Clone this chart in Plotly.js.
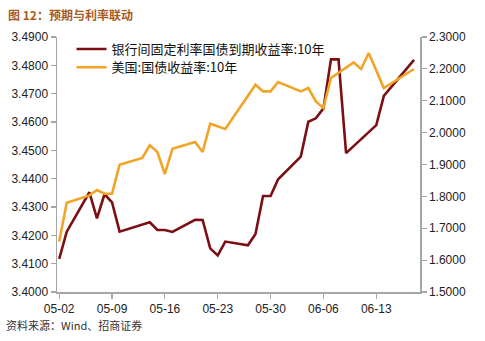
<!DOCTYPE html>
<html>
<head>
<meta charset="utf-8">
<script src="https://cdn.plot.ly/plotly-3.0.1.min.js"></script>
<style>
  html, body { margin: 0; padding: 0; background: #ffffff; }
  #chart { width: 485px; height: 341px; }
</style>
</head>
<body>
<div id="chart"></div>
<script>
// China interbank fixed-rate treasury 10Y yield (left axis)
const cnDates = ['2013-05-02','2013-05-03','2013-05-06','2013-05-07','2013-05-08','2013-05-09','2013-05-10',
  '2013-05-14','2013-05-15','2013-05-16','2013-05-17','2013-05-20','2013-05-21','2013-05-22','2013-05-23',
  '2013-05-24','2013-05-27','2013-05-28','2013-05-29','2013-05-30','2013-05-31','2013-06-01','2013-06-03',
  '2013-06-04','2013-06-05','2013-06-06','2013-06-07','2013-06-08','2013-06-09','2013-06-13','2013-06-14',
  '2013-06-18'];
const cnYield = [3.4117,3.4213,3.4352,3.4260,3.4345,3.4316,3.4213,
  3.4246,3.4219,3.4219,3.4212,3.4255,3.4254,3.4154,3.4129,
  3.4178,3.4165,3.4205,3.4339,3.4339,3.4398,3.4425,3.4478,
  3.4601,3.4613,3.4648,3.4821,3.4821,3.4490,3.4589,3.4692,
  3.4819];

// US treasury 10Y yield (right axis)
const usDates = ['2013-05-02','2013-05-03','2013-05-06','2013-05-07','2013-05-08','2013-05-09','2013-05-10',
  '2013-05-13','2013-05-14','2013-05-15','2013-05-16','2013-05-17','2013-05-20','2013-05-21','2013-05-22',
  '2013-05-23','2013-05-24','2013-05-28','2013-05-29','2013-05-30','2013-05-31','2013-06-03','2013-06-04',
  '2013-06-05','2013-06-06','2013-06-07','2013-06-10','2013-06-11','2013-06-12','2013-06-14','2013-06-18'];
const usYield = [1.6588,1.7802,1.8031,1.8200,1.8084,1.8084,1.8994,
  1.9204,1.9600,1.9392,1.8702,1.9496,1.9706,1.9392,2.0280,
  2.0195,2.0114,2.1504,2.1293,2.1293,2.1588,2.1293,2.1400,
  2.0980,2.0773,2.1714,2.2203,2.1996,2.2498,2.1400,2.1996];

const seriesNames = ['银行间固定利率国债到期收益率:10年', '美国:国债收益率:10年'];
const xTickVals = ['2013-05-02','2013-05-09','2013-05-16','2013-05-23','2013-05-30','2013-06-06','2013-06-13'];
const xTickText = ['05-02','05-09','05-16','05-23','05-30','06-06','06-13'];
const titleText = '图 12：预期与利率联动';
const sourceText = '资料来源：Wind、招商证券';

const tickFont = {family: 'Liberation Sans, Arial, sans-serif', size: 12, color: '#222222'};
const axisGray = '#a6a6a6';
const legendFont = {family: 'Noto Sans CJK SC, sans-serif', size: 13, color: '#111111'};

const traces = [
  {x: cnDates, y: cnYield, name: seriesNames[0], type: 'scatter', mode: 'lines',
   line: {color: '#7b0f14', width: 2.6}, yaxis: 'y', legend: 'legend'},
  {x: usDates, y: usYield, name: seriesNames[1], type: 'scatter', mode: 'lines',
   line: {color: '#f2a427', width: 2.6}, yaxis: 'y2', legend: 'legend2'}
];

const layout = {
  width: 485, height: 341,
  margin: {l: 57, r: 65, t: 37, b: 49},
  paper_bgcolor: '#ffffff', plot_bgcolor: '#ffffff',
  showlegend: true,
  legend: {x: 0.04, y: 0.953, xanchor: 'left', yanchor: 'middle', bgcolor: 'rgba(0,0,0,0)',
    font: legendFont, itemwidth: 30},
  legend2: {x: 0.04, y: 0.881, xanchor: 'left', yanchor: 'middle', bgcolor: 'rgba(0,0,0,0)',
    font: legendFont, itemwidth: 30},
  xaxis: {type: 'date', range: ['2013-05-01 17:00', '2013-06-18 19:00'],
    tickmode: 'array', tickvals: xTickVals, ticktext: xTickText,
    showgrid: false, zeroline: false, showline: true, linecolor: axisGray, linewidth: 1.5,
    ticks: 'outside', ticklen: 5, tickcolor: axisGray, tickwidth: 1.2, tickfont: tickFont},
  yaxis: {range: [3.40, 3.49], dtick: 0.01, tick0: 3.40, tickformat: '.4f',
    showgrid: false, zeroline: false, showline: true, linecolor: axisGray, linewidth: 1.5,
    ticks: 'outside', ticklen: 5, tickcolor: axisGray, tickwidth: 1.2, tickfont: tickFont},
  yaxis2: {range: [1.5, 2.3], dtick: 0.1, tick0: 1.5, tickformat: '.4f', overlaying: 'y', side: 'right',
    showgrid: false, zeroline: false, showline: true, linecolor: axisGray, linewidth: 1.5,
    ticks: 'outside', ticklen: 5, tickcolor: axisGray, tickwidth: 1.2, tickfont: tickFont},
  annotations: [
    {text: '<b>' + titleText + '</b>', xref: 'paper', yref: 'paper', x: -0.14, y: 1.0,
     xanchor: 'left', yanchor: 'bottom', yshift: 12, showarrow: false,
     font: {family: 'Noto Sans CJK SC, sans-serif', size: 12, color: '#a95b1e'}},
    {text: sourceText, xref: 'paper', yref: 'paper', x: -0.145, y: 0, xanchor: 'left', yanchor: 'top',
     yshift: -23, showarrow: false,
     font: {family: 'Noto Sans CJK SC, sans-serif', size: 11, color: '#333333'}}
  ]
};

Plotly.newPlot('chart', traces, layout, {displayModeBar: false, staticPlot: true});
</script>
</body>
</html>
